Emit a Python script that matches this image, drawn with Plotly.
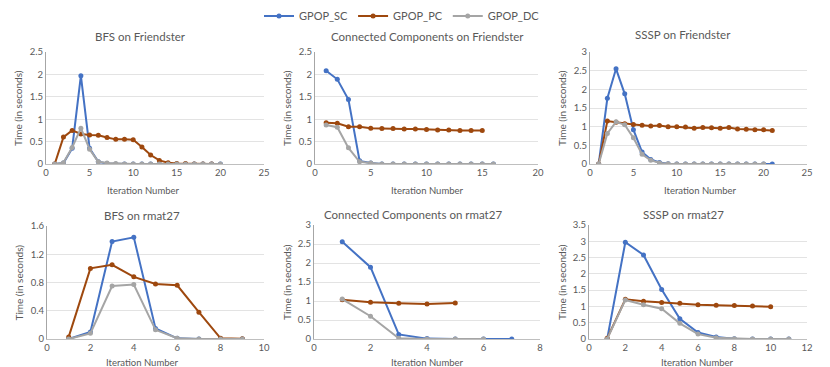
import plotly.graph_objects as go
from plotly.subplots import make_subplots

# ---- data ----
bfs_fr_x = list(range(1, 21))
bfs_fr_sc = [0, 0.02, 0.35, 1.97, 0.35, 0.05, 0.01, 0, 0, 0, 0, 0, 0, 0, 0, 0, 0, 0, 0, 0]
bfs_fr_pc = [0, 0.6, 0.75, 0.67, 0.65, 0.64, 0.59, 0.55, 0.55, 0.54, 0.38, 0.2, 0.08, 0.03, 0.01, 0.01, 0, 0, 0]
bfs_fr_dc = [0, 0.03, 0.37, 0.8, 0.33, 0.05, 0.02, 0.01, 0, 0, 0, 0, 0, 0, 0, 0, 0, 0, 0, 0]

cc_fr_x = list(range(1, 17))
cc_fr_sc = [2.08, 1.89, 1.44, 0.07, 0.02, 0, 0, 0, 0, 0, 0, 0, 0, 0, 0, 0]
cc_fr_pc = [0.92, 0.91, 0.83, 0.83, 0.80, 0.79, 0.79, 0.78, 0.78, 0.77, 0.76, 0.76, 0.75, 0.75, 0.75]
cc_fr_dc = [0.87, 0.82, 0.36, 0.05, 0.02, 0, 0, 0, 0, 0, 0, 0, 0, 0, 0, 0]

sssp_fr_x = list(range(1, 22))
sssp_fr_sc = [0, 1.76, 2.55, 1.88, 0.92, 0.32, 0.12, 0.04, 0.01, 0, 0, 0, 0, 0, 0, 0, 0, 0, 0, 0, 0]
sssp_fr_pc = [0, 1.15, 1.12, 1.08, 1.06, 1.04, 1.02, 1.03, 1.0, 1.0, 0.99, 0.96, 0.98, 0.97, 0.96, 0.98, 0.94, 0.93, 0.92, 0.92, 0.9]
sssp_fr_dc = [0, 0.82, 1.13, 1.05, 0.7, 0.26, 0.1, 0.03, 0.01, 0, 0, 0, 0, 0, 0, 0, 0, 0, 0, 0]

bfs_rm_x = list(range(1, 10))
bfs_rm_sc = [0, 0.1, 1.38, 1.44, 0.15, 0.01, 0, 0, 0]
bfs_rm_pc = [0.03, 1.0, 1.05, 0.88, 0.78, 0.76, 0.38, 0.01, 0.005]
bfs_rm_dc = [0, 0.08, 0.75, 0.77, 0.13, 0.01, 0, 0, 0]

cc_rm_x = list(range(1, 8))
cc_rm_sc = [2.56, 1.89, 0.12, 0.01, 0, 0, 0]
cc_rm_pc = [1.03, 0.97, 0.94, 0.92, 0.95]
cc_rm_dc = [1.05, 0.6, 0.02, 0, 0, 0]

sssp_rm_x = list(range(1, 12))
sssp_rm_sc = [0, 2.97, 2.58, 1.52, 0.62, 0.2, 0.06, 0.01, 0, 0, 0]
sssp_rm_pc = [0.02, 1.22, 1.16, 1.12, 1.1, 1.05, 1.04, 1.03, 1.01, 0.99]
sssp_rm_dc = [0, 1.2, 1.05, 0.93, 0.48, 0.15, 0.04, 0.01, 0, 0, 0]

titles = ["BFS on Friendster", "Connected Components on Friendster", "SSSP on Friendster",
          "BFS on rmat27", "Connected Components on rmat27", "SSSP on rmat27"]

panels = [
    (bfs_fr_x, bfs_fr_sc, bfs_fr_pc, bfs_fr_dc),
    (cc_fr_x, cc_fr_sc, cc_fr_pc, cc_fr_dc),
    (sssp_fr_x, sssp_fr_sc, sssp_fr_pc, sssp_fr_dc),
    (bfs_rm_x, bfs_rm_sc, bfs_rm_pc, bfs_rm_dc),
    (cc_rm_x, cc_rm_sc, cc_rm_pc, cc_rm_dc),
    (sssp_rm_x, sssp_rm_sc, sssp_rm_pc, sssp_rm_dc),
]

x_ranges = [(0, 25, 5), (0, 20, 5), (0, 25, 5), (0, 10, 2), (0, 8, 2), (0, 12, 2)]
y_ranges = [(0, 2.5, 0.5), (0, 2.5, 0.5), (0, 3, 0.5), (0, 1.6, 0.4), (0, 3, 0.5), (0, 3.5, 0.5)]

names = ["GPOP_SC", "GPOP_PC", "GPOP_DC"]
colors = ["#4472C4", "#9E480E", "#A5A5A5"]

W, H = 830, 367
OFF = 8  # page body margin shifts the figure by 8px


def fx(px):
    return (px - OFF) / W


def fy(px):
    # window pixel row from top -> paper fraction (no margins)
    return (H - (px - OFF)) / H


# pixel boxes of each plot area in the window (left, right, top, bottom)
boxes = [(46, 264, 52, 164), (315, 538, 52, 164), (590, 807, 52, 164),
         (47, 264, 226, 339), (314, 540, 225, 339), (589, 807, 225, 339)]
title_pos = [(140, 36), (427, 36), (683, 34), (142, 215), (413, 214), (683, 214)]
ytitle_x = [18, 287, 562, 18, 287, 562]
xlab_pos = [(143, 190), (427, 190), (700, 190), (142, 362), (427, 362), (697, 362)]

FONT = "Lato"
GREY = "#595959"

fig = make_subplots(rows=2, cols=3)

for i, (x, sc, pc, dc) in enumerate(panels):
    r, c = i // 3 + 1, i % 3 + 1
    # draw order: SC, PC, DC (DC on top)
    for k, ys in enumerate([sc, pc, dc]):
        fig.add_trace(go.Scatter(
            x=x[:len(ys)], y=ys, mode="lines+markers", name=names[k],
            line=dict(color=colors[k], width=2),
            marker=dict(color=colors[k], size=5),
            showlegend=(i == 0), legendgroup=names[k],
        ), row=r, col=c)
    l, rr, t, b = boxes[i]
    xa = "xaxis" if i == 0 else f"xaxis{i+1}"
    ya = "yaxis" if i == 0 else f"yaxis{i+1}"
    x0, x1, dx = x_ranges[i]
    y0, y1, dy = y_ranges[i]
    fig.layout[xa].update(domain=[fx(l), fx(rr)], range=[x0, x1], dtick=dx, tick0=0,
                          showgrid=False, zeroline=False, showline=True,
                          linecolor="#BFBFBF", linewidth=1, ticks="", automargin=False,
                          tickfont=dict(size=9.5, color=GREY, family=FONT))
    fig.layout[ya].update(domain=[fy(b), fy(t)], range=[y0, y1], dtick=dy, tick0=0,
                          showgrid=True, gridcolor="#E3E3E3", gridwidth=1,
                          zeroline=False, showline=True, linecolor="#A6A6A6", linewidth=1,
                          ticks="", automargin=False,
                          tickfont=dict(size=9.5, color=GREY, family=FONT))
    tx, ty = title_pos[i]
    fig.add_annotation(text=titles[i], x=fx(tx), y=fy(ty), xref="paper", yref="paper",
                       showarrow=False, xanchor="center", yanchor="middle",
                       font=dict(size=11.5, color=GREY, family=FONT))
    fig.add_annotation(text="Time (in seconds)", x=fx(ytitle_x[i]), y=fy((t + b) / 2),
                       xref="paper", yref="paper", showarrow=False, textangle=-90,
                       xanchor="center", yanchor="middle",
                       font=dict(size=10, color=GREY, family=FONT))
    lx, ly = xlab_pos[i]
    fig.add_annotation(text="Iteration Number", x=fx(lx), y=fy(ly), xref="paper", yref="paper",
                       showarrow=False, xanchor="center", yanchor="middle",
                       font=dict(size=9.5, color=GREY, family=FONT))

fig.update_layout(
    width=W, height=H,
    margin=dict(l=0, r=0, t=0, b=0, autoexpand=False),
    paper_bgcolor="white", plot_bgcolor="white",
    font=dict(family=FONT, color=GREY),
    legend=dict(orientation="h", x=fx(402), xanchor="center", y=fy(16), yanchor="middle",
                font=dict(size=11, color=GREY, family=FONT), itemwidth=30,
                bgcolor="rgba(0,0,0,0)"),
)

fig.write_html("out.html")
